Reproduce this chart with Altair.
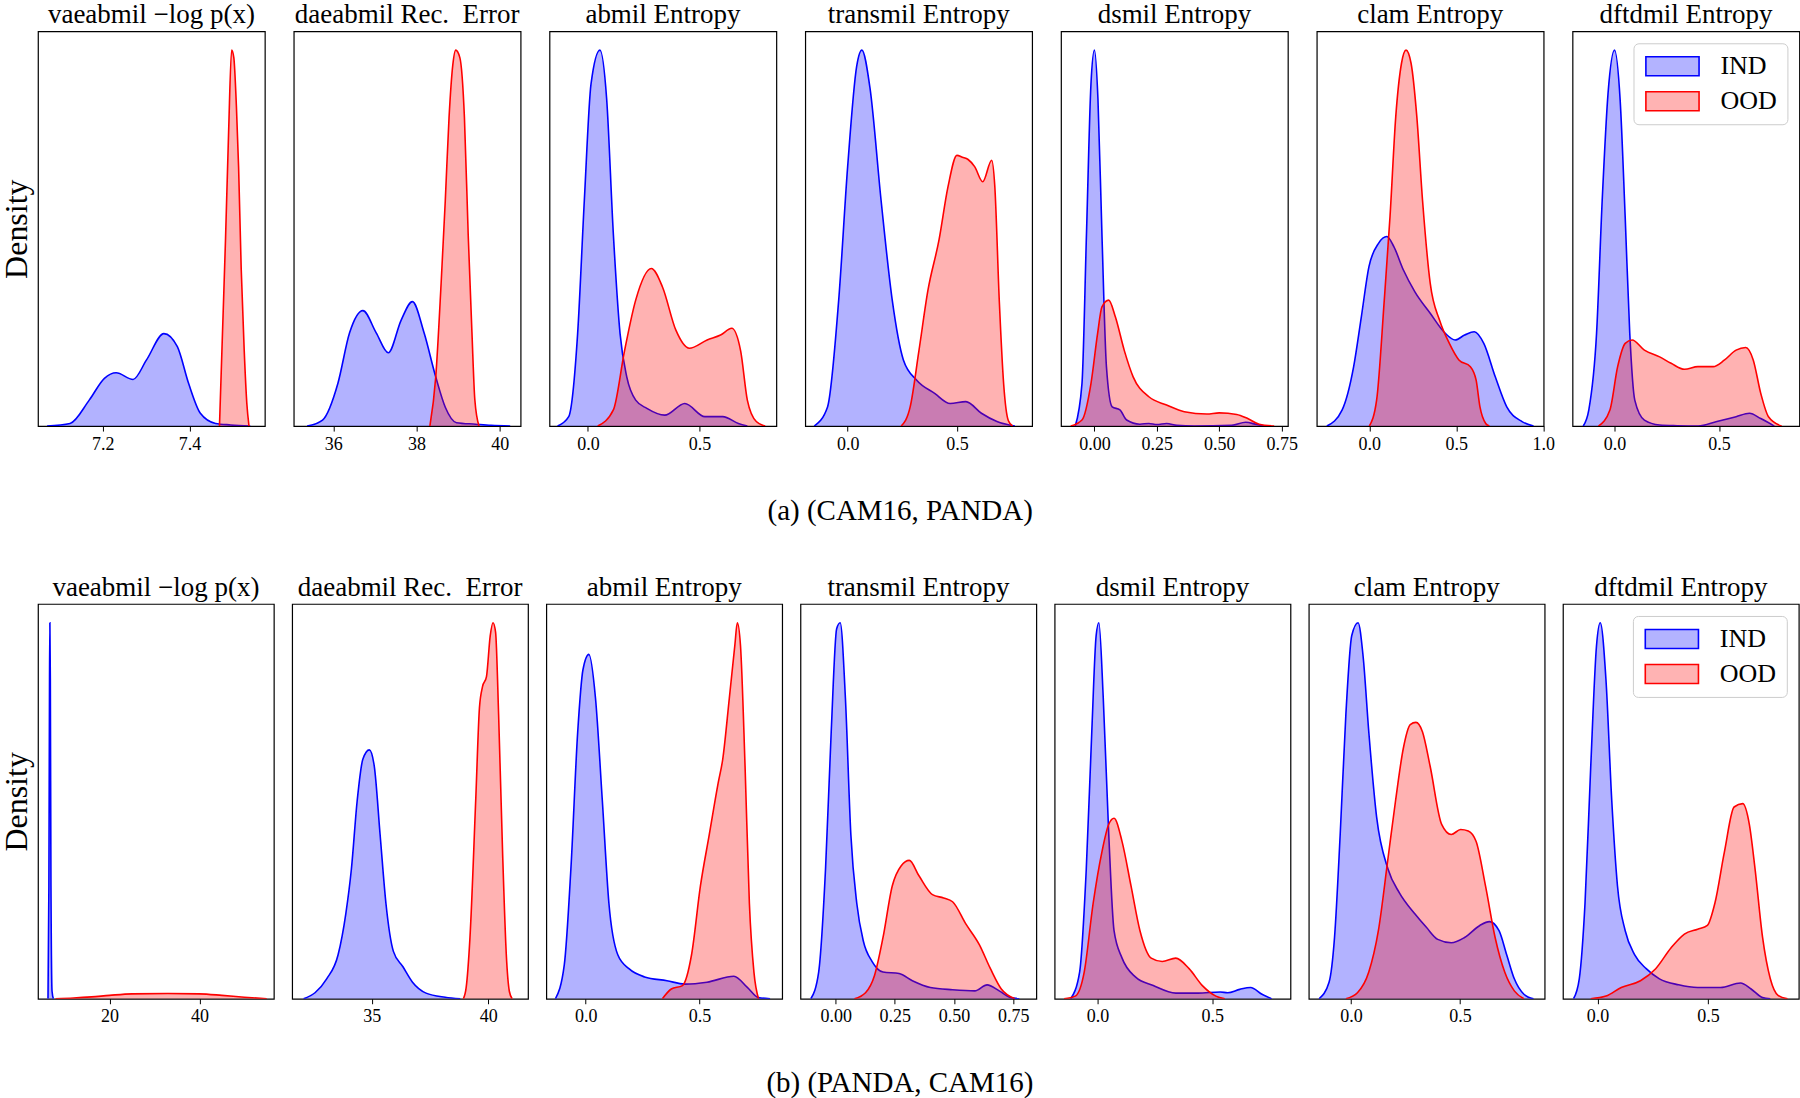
import altair as alt
import pandas as pd

FONT = "Liberation Serif"
BLUE = "#0000ff"
RED = "#ff0000"
BLUE_FILL = "#b3b3ff"
RED_FILL = "#ffb3b3"
GROUPS = ["IND", "OOD"]

# ---------------- row (a): (CAM16, PANDA) ----------------
a1_ind_x = [7.072, 7.125, 7.169, 7.204, 7.231, 7.270, 7.301, 7.341, 7.372, 7.398, 7.425, 7.46, 7.495, 7.54]
a1_ind_d = [0, 0.007, 0.069, 0.127, 0.142, 0.124, 0.176, 0.246, 0.211, 0.113, 0.034, 0.007, 0.003, 0]
a1_ood_x = [7.469, 7.476, 7.483, 7.490, 7.497, 7.502, 7.508, 7.513, 7.519, 7.526, 7.532, 7.537]
a1_ood_d = [0, 0.25, 0.5, 0.78, 1.0, 0.98, 0.85, 0.69, 0.42, 0.2, 0.06, 0]

a2_ind_x = [35.37, 35.74, 36.11, 36.39, 36.71, 37.03, 37.32, 37.63, 37.90, 38.18, 38.46, 38.69, 38.96, 39.42, 39.79, 40.25]
a2_ind_d = [0, 0.016, 0.114, 0.248, 0.307, 0.248, 0.195, 0.282, 0.331, 0.248, 0.131, 0.05, 0.009, 0.005, 0.002, 0]
a2_ood_x = [38.32, 38.46, 38.59, 38.69, 38.78, 38.87, 38.94, 39.04, 39.15, 39.24, 39.33, 39.40, 39.50]
a2_ood_d = [0, 0.13, 0.38, 0.60, 0.82, 0.96, 1.0, 0.98, 0.82, 0.51, 0.25, 0.07, 0]

a3_ind_x = [-0.136, -0.086, -0.046, -0.016, 0.014, 0.054, 0.084, 0.114, 0.144, 0.174, 0.214, 0.264, 0.344, 0.434, 0.524, 0.604, 0.674, 0.714]
a3_ind_d = [0, 0.025, 0.246, 0.60, 0.91, 1.0, 0.87, 0.51, 0.246, 0.131, 0.069, 0.047, 0.029, 0.060, 0.025, 0.025, 0.007, 0]
a3_ood_x = [0.044, 0.114, 0.164, 0.214, 0.284, 0.334, 0.394, 0.454, 0.534, 0.594, 0.644, 0.684, 0.714, 0.754, 0.794]
a3_ood_d = [0, 0.043, 0.20, 0.335, 0.419, 0.37, 0.255, 0.207, 0.229, 0.242, 0.26, 0.20, 0.069, 0.012, 0]

a4_ind_x = [-0.153, -0.092, -0.041, 0.0, 0.041, 0.065, 0.102, 0.153, 0.204, 0.255, 0.316, 0.398, 0.469, 0.541, 0.612, 0.683, 0.765]
a4_ind_d = [0, 0.051, 0.335, 0.69, 0.956, 1.0, 0.90, 0.60, 0.335, 0.176, 0.122, 0.087, 0.060, 0.065, 0.034, 0.012, 0]
a4_ood_x = [0.245, 0.286, 0.326, 0.367, 0.418, 0.459, 0.50, 0.525, 0.551, 0.581, 0.618, 0.659, 0.673, 0.694, 0.714, 0.735, 0.755]
a4_ood_d = [0, 0.051, 0.20, 0.36, 0.495, 0.636, 0.72, 0.715, 0.709, 0.69, 0.65, 0.707, 0.64, 0.33, 0.11, 0.015, 0]

a5_ind_x = [-0.077, -0.05, -0.032, -0.014, 0.0, 0.014, 0.030, 0.048, 0.071, 0.102, 0.129, 0.182, 0.218, 0.25, 0.289, 0.33, 0.4, 0.55, 0.606, 0.65, 0.68]
a5_ind_d = [0, 0.113, 0.51, 0.91, 1.0, 0.87, 0.51, 0.158, 0.051, 0.043, 0.016, 0.005, 0.007, 0.004, 0.007, 0.002, 0, 0.002, 0.01, 0.004, 0]
a5_ood_x = [-0.095, -0.05, -0.014, 0.0125, 0.030, 0.057, 0.084, 0.120, 0.155, 0.218, 0.289, 0.36, 0.45, 0.50, 0.57, 0.614, 0.66, 0.72]
a5_ood_d = [0, 0.016, 0.113, 0.246, 0.317, 0.335, 0.29, 0.20, 0.131, 0.078, 0.056, 0.038, 0.032, 0.035, 0.031, 0.02, 0.005, 0]

a6_ind_x = [-0.244, -0.156, -0.09, -0.046, -0.002, 0.053, 0.101, 0.141, 0.196, 0.262, 0.35, 0.438, 0.493, 0.548, 0.603, 0.658, 0.724, 0.79, 0.878, 0.944]
a6_ind_d = [0, 0.043, 0.158, 0.29, 0.424, 0.486, 0.504, 0.477, 0.415, 0.357, 0.30, 0.246, 0.229, 0.242, 0.251, 0.22, 0.131, 0.051, 0.012, 0]
a6_ood_x = [0.0, 0.042, 0.086, 0.119, 0.152, 0.185, 0.211, 0.24, 0.273, 0.306, 0.35, 0.405, 0.46, 0.515, 0.581, 0.614, 0.636, 0.669, 0.69]
a6_ood_d = [0, 0.069, 0.335, 0.557, 0.823, 0.965, 1.0, 0.965, 0.823, 0.60, 0.38, 0.28, 0.22, 0.176, 0.158, 0.122, 0.051, 0.007, 0]

a7_ind_x = [-0.150, -0.123, -0.086, -0.059, -0.031, 0.0, 0.027, 0.051, 0.073, 0.097, 0.143, 0.216, 0.30, 0.40, 0.49, 0.582, 0.646, 0.70, 0.765]
a7_ind_d = [0, 0.043, 0.246, 0.60, 0.885, 1.0, 0.867, 0.557, 0.246, 0.069, 0.016, 0.003, 0.001, 0.0, 0.012, 0.025, 0.034, 0.02, 0]
a7_ood_x = [-0.077, -0.022, 0.015, 0.051, 0.084, 0.143, 0.216, 0.271, 0.335, 0.399, 0.472, 0.527, 0.582, 0.628, 0.664, 0.70, 0.737, 0.80]
a7_ood_d = [0, 0.043, 0.158, 0.22, 0.229, 0.202, 0.184, 0.167, 0.151, 0.158, 0.158, 0.176, 0.202, 0.209, 0.176, 0.087, 0.025, 0]

# ---------------- row (b): (PANDA, CAM16) ----------------
b1_ind_x = [6.3, 6.5, 6.64, 6.72, 6.82, 6.96, 7.2, 7.5]
b1_ind_d = [0, 0.3, 0.85, 1.0, 0.85, 0.3, 0.02, 0]
b1_ood_x = [8, 12, 16, 20, 25, 33, 40, 45, 50, 55]
b1_ood_d = [0, 0.002, 0.005, 0.009, 0.013, 0.014, 0.013, 0.009, 0.004, 0]

b2_ind_x = [32.08, 32.57, 33.07, 33.56, 33.89, 34.13, 34.38, 34.62, 34.90, 35.11, 35.36, 35.61, 35.93, 36.34, 36.75, 37.33, 38.15, 38.8]
b2_ind_d = [0, 0.016, 0.053, 0.117, 0.226, 0.345, 0.528, 0.637, 0.662, 0.619, 0.437, 0.254, 0.126, 0.085, 0.044, 0.015, 0.004, 0]
b2_ood_x = [38.93, 39.05, 39.21, 39.46, 39.62, 39.75, 39.92, 40.08, 40.20, 40.31, 40.44, 40.61, 40.77, 40.9, 41.02]
b2_ood_d = [0, 0.03, 0.16, 0.53, 0.775, 0.83, 0.857, 0.965, 1.0, 0.975, 0.756, 0.39, 0.117, 0.02, 0]

b3_ind_x = [-0.133, -0.094, -0.065, -0.035, -0.012, 0.014, 0.043, 0.073, 0.102, 0.141, 0.19, 0.259, 0.357, 0.435, 0.533, 0.651, 0.71, 0.759, 0.81]
b3_ind_d = [0, 0.09, 0.345, 0.71, 0.875, 0.916, 0.80, 0.528, 0.254, 0.117, 0.08, 0.058, 0.048, 0.039, 0.044, 0.06, 0.03, 0.003, 0]
b3_ood_x = [0.337, 0.376, 0.425, 0.465, 0.504, 0.543, 0.582, 0.602, 0.631, 0.655, 0.666, 0.68, 0.70, 0.719, 0.739, 0.759]
b3_ood_d = [0, 0.026, 0.035, 0.117, 0.30, 0.437, 0.574, 0.637, 0.80, 0.939, 1.0, 0.939, 0.619, 0.254, 0.071, 0]

b4_ind_x = [-0.105, -0.072, -0.043, -0.019, 0.004, 0.019, 0.041, 0.064, 0.089, 0.117, 0.154, 0.20, 0.268, 0.324, 0.40, 0.494, 0.588, 0.64, 0.691, 0.739, 0.776]
b4_ind_d = [0, 0.071, 0.345, 0.71, 0.984, 1.0, 0.80, 0.437, 0.254, 0.153, 0.099, 0.071, 0.067, 0.048, 0.030, 0.024, 0.021, 0.037, 0.021, 0.003, 0]
b4_ood_x = [0.079, 0.126, 0.164, 0.20, 0.239, 0.277, 0.311, 0.352, 0.409, 0.456, 0.494, 0.55, 0.607, 0.654, 0.70, 0.757]
b4_ood_d = [0, 0.016, 0.062, 0.163, 0.30, 0.354, 0.368, 0.327, 0.277, 0.268, 0.258, 0.199, 0.144, 0.08, 0.026, 0]

b5_ind_x = [-0.117, -0.078, -0.049, -0.025, -0.006, 0.006, 0.025, 0.049, 0.072, 0.107, 0.165, 0.243, 0.341, 0.438, 0.535, 0.567, 0.62, 0.667, 0.717, 0.759]
b5_ind_d = [0, 0.071, 0.345, 0.71, 0.966, 1.0, 0.80, 0.437, 0.181, 0.108, 0.058, 0.035, 0.015, 0.015, 0.018, 0.016, 0.025, 0.03, 0.012, 0]
b5_ood_x = [-0.146, -0.097, -0.058, -0.019, 0.019, 0.049, 0.072, 0.107, 0.146, 0.185, 0.234, 0.282, 0.341, 0.399, 0.457, 0.516, 0.555]
b5_ood_d = [0, 0.007, 0.071, 0.254, 0.39, 0.464, 0.48, 0.418, 0.30, 0.181, 0.108, 0.099, 0.108, 0.08, 0.035, 0.007, 0]

b6_ind_x = [-0.146, -0.10, -0.075, -0.049, -0.023, 0.004, 0.033, 0.056, 0.082, 0.118, 0.17, 0.223, 0.293, 0.346, 0.398, 0.46, 0.521, 0.591, 0.635, 0.679, 0.714, 0.749, 0.793, 0.837]
b6_ind_d = [0, 0.044, 0.163, 0.437, 0.756, 0.966, 1.0, 0.911, 0.71, 0.483, 0.345, 0.281, 0.226, 0.19, 0.158, 0.149, 0.163, 0.195, 0.205, 0.181, 0.117, 0.053, 0.012, 0]
b6_ood_x = [-0.023, 0.03, 0.082, 0.126, 0.17, 0.205, 0.24, 0.272, 0.298, 0.328, 0.363, 0.416, 0.46, 0.503, 0.538, 0.574, 0.617, 0.661, 0.705, 0.749, 0.793]
b6_ood_d = [0, 0.016, 0.071, 0.181, 0.373, 0.528, 0.665, 0.729, 0.735, 0.71, 0.619, 0.464, 0.437, 0.45, 0.446, 0.418, 0.30, 0.163, 0.071, 0.021, 0]

b7_ind_x = [-0.109, -0.083, -0.057, -0.031, -0.005, 0.012, 0.038, 0.064, 0.09, 0.125, 0.168, 0.22, 0.28, 0.367, 0.453, 0.557, 0.647, 0.695, 0.747, 0.782]
b7_ind_d = [0, 0.053, 0.254, 0.619, 0.939, 1.0, 0.847, 0.528, 0.30, 0.181, 0.117, 0.08, 0.053, 0.037, 0.03, 0.03, 0.042, 0.026, 0.003, 0]
b7_ood_x = [-0.031, 0.038, 0.107, 0.194, 0.263, 0.332, 0.393, 0.453, 0.497, 0.531, 0.574, 0.618, 0.657, 0.687, 0.713, 0.747, 0.782, 0.817, 0.86]
b7_ood_d = [0, 0.007, 0.03, 0.048, 0.08, 0.135, 0.172, 0.185, 0.195, 0.254, 0.39, 0.51, 0.519, 0.464, 0.345, 0.163, 0.053, 0.009, 0]

TITLES = ["vaeabmil \u2212log p(x)", "daeabmil Rec.\u2002Error", "abmil Entropy", "transmil Entropy",
          "dsmil Entropy", "clam Entropy", "dftdmil Entropy"]

ROW_A = [
    dict(ind=(a1_ind_x, a1_ind_d), ood=(a1_ood_x, a1_ood_d), domain=[7.051, 7.5735], ticks=[7.2, 7.4], fmt=".1f"),
    dict(ind=(a2_ind_x, a2_ind_d), ood=(a2_ood_x, a2_ood_d), domain=[35.048, 40.50], ticks=[36, 38, 40], fmt="d"),
    dict(ind=(a3_ind_x, a3_ind_d), ood=(a3_ood_x, a3_ood_d), domain=[-0.172, 0.844], ticks=[0, 0.5], fmt=".1f"),
    dict(ind=(a4_ind_x, a4_ind_d), ood=(a4_ood_x, a4_ood_d), domain=[-0.194, 0.844], ticks=[0, 0.5], fmt=".1f"),
    dict(ind=(a5_ind_x, a5_ind_d), ood=(a5_ood_x, a5_ood_d), domain=[-0.134, 0.775], ticks=[0, 0.25, 0.5, 0.75], fmt=".2f"),
    dict(ind=(a6_ind_x, a6_ind_d), ood=(a6_ood_x, a6_ood_d), domain=[-0.302, 1.002], ticks=[0, 0.5, 1.0], fmt=".1f"),
    dict(ind=(a7_ind_x, a7_ind_d), ood=(a7_ood_x, a7_ood_d), domain=[-0.201, 0.885], ticks=[0, 0.5], fmt=".1f"),
]
ROW_B = [
    dict(ind=(b1_ind_x, b1_ind_d), ood=(b1_ood_x, b1_ood_d), domain=[4.07, 56.57], ticks=[20, 40], fmt="d"),
    dict(ind=(b2_ind_x, b2_ind_d), ood=(b2_ood_x, b2_ood_d), domain=[31.59, 41.70], ticks=[35, 40], fmt="d"),
    dict(ind=(b3_ind_x, b3_ind_d), ood=(b3_ood_x, b3_ood_d), domain=[-0.173, 0.863], ticks=[0, 0.5], fmt=".1f"),
    dict(ind=(b4_ind_x, b4_ind_d), ood=(b4_ood_x, b4_ood_d), domain=[-0.149, 0.848], ticks=[0, 0.25, 0.5, 0.75], fmt=".2f"),
    dict(ind=(b5_ind_x, b5_ind_d), ood=(b5_ood_x, b5_ood_d), domain=[-0.187, 0.841], ticks=[0, 0.5], fmt=".1f"),
    dict(ind=(b6_ind_x, b6_ind_d), ood=(b6_ood_x, b6_ood_d), domain=[-0.193, 0.888], ticks=[0, 0.5], fmt=".1f"),
    dict(ind=(b7_ind_x, b7_ind_d), ood=(b7_ood_x, b7_ood_d), domain=[-0.157, 0.911], ticks=[0, 0.5], fmt=".1f"),
]

SYMBOL = "M-2.8,-1H2.8V1H-2.8Z"


def legend_box():
    return alt.Legend(title=None, orient="top-right", offset=12, padding=10, rowPadding=9,
                      labelFont=FONT, labelFontSize=26, labelColor="black", labelOffset=35,
                      symbolType=SYMBOL, symbolSize=361, symbolOffset=16, symbolStrokeWidth=1.6,
                      strokeColor="#cccccc", cornerRadius=5, fillColor="rgba(255,255,255,0.8)")


def make_panel(spec, title, width, height, first, with_legend):
    rows = []
    for g, (xs, ds) in zip(GROUPS, [spec["ind"], spec["ood"]]):
        rows += [{"x": x, "d": d, "group": g} for x, d in zip(xs, ds)]
    df = pd.DataFrame(rows)
    xenc = alt.X("x:Q", scale=alt.Scale(domain=spec["domain"], nice=False, zero=False),
                 axis=alt.Axis(values=spec["ticks"], format=spec["fmt"], title=None))
    if first:
        yaxis = alt.Axis(title="Density", labels=False, ticks=False, domain=False, grid=False,
                         titleFont=FONT, titleFontSize=32, titleFontWeight="normal",
                         titleColor="black", titlePadding=4)
    else:
        yaxis = None
    yenc = alt.Y("d:Q", scale=alt.Scale(domain=[0, 1.05], nice=False, zero=True), axis=yaxis)
    cscale = alt.Scale(domain=GROUPS, range=[BLUE, RED])
    base = alt.Chart(df).encode(x=xenc, y=yenc)
    layers = []
    for g in GROUPS:
        sub = base.transform_filter(alt.datum.group == g)
        layers.append(sub.mark_area(interpolate="monotone", fillOpacity=0.3, clip=True).encode(
            color=alt.Color("group:N", scale=cscale, legend=None)))
        layers.append(sub.mark_line(interpolate="monotone", strokeWidth=1.6, clip=True).encode(
            color=alt.Color("group:N", scale=cscale, legend=None)))
    if with_legend:
        fill_scale = alt.Scale(domain=GROUPS, range=[BLUE_FILL, RED_FILL])
        stroke_scale = alt.Scale(domain=GROUPS, range=[BLUE, RED])
        # legend-only layer: its points sit below the plot area and are clipped away
        dummy = alt.Chart(df).mark_point(filled=True, clip=True, size=20, opacity=1).encode(
            x=xenc, y=alt.datum(-1.0),
            color=alt.Color("group:N", scale=fill_scale, legend=legend_box()),
            stroke=alt.Stroke("group:N", scale=stroke_scale, legend=legend_box()),
        )
        layers.append(dummy)
    chart = alt.layer(*layers)
    if with_legend:
        chart = chart.resolve_scale(color="independent", stroke="independent")
    return chart.properties(
        width=width, height=height,
        title=alt.TitleParams(title, font=FONT, fontSize=27, fontWeight="normal", color="black",
                              offset=2, anchor="middle", frame="group"))


def make_row(specs, width, height, spacing, caption):
    panels = [make_panel(s, t, width, height, i == 0, i == len(specs) - 1)
              for i, (s, t) in enumerate(zip(specs, TITLES))]
    return alt.hconcat(*panels, spacing=spacing, bounds="flush",
                       title=alt.TitleParams(caption, orient="bottom", font=FONT, fontSize=29,
                                             fontWeight="normal", color="black", offset=43,
                                             anchor="middle")
                       ).resolve_scale(color="independent", stroke="independent")


row_a = make_row(ROW_A, 227, 395, 28.9, "(a) (CAM16, PANDA)")
row_b = make_row(ROW_B, 236, 395, 18.3, "(b) (PANDA, CAM16)")

chart = alt.vconcat(row_a, row_b, spacing=573, bounds="flush").resolve_scale(
    color="independent", stroke="independent"
).configure_view(stroke="black", strokeWidth=1.2).configure_axis(
    labelFont=FONT, labelFontSize=18, labelColor="black", tickColor="black", tickSize=5,
    tickWidth=1, domain=False, grid=False, labelPadding=4, labelFlush=False, labelOverlap=False,
).properties(padding={"left": 0, "top": 0, "right": 0, "bottom": 0}, background="white")

chart.save("out.html", embed_options={"renderer": "svg", "actions": False})
